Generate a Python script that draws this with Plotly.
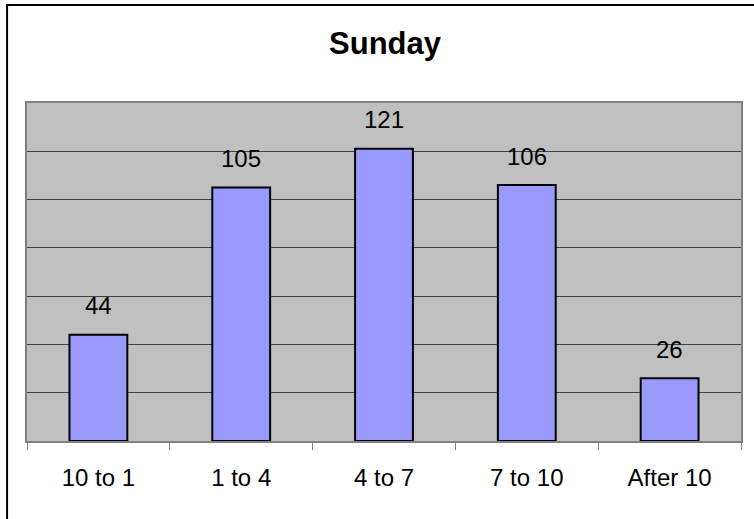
import plotly.graph_objects as go

categories = ["10 to 1", "1 to 4", "4 to 7", "7 to 10", "After 10"]
values = [44, 105, 121, 106, 26]
title_text = "Sunday"

W, H = 754, 519
L, R, T, B = 27, 11, 103, 78
pw, ph = W - L - R, H - T - B

fig = go.Figure()
fig.add_trace(go.Bar(
    x=categories, y=values, width=0.405,
    marker=dict(color="#9999FF", line=dict(color="#000000", width=2)),
    hoverinfo="skip",
))

for c, v in zip(categories, values):
    fig.add_annotation(x=c, y=v, text=str(v), showarrow=False,
                       yanchor="bottom", yshift=13.5,
                       font=dict(family="Liberation Sans, Arial", size=24, color="#000000"))

# outer chart border
fig.add_shape(type="rect", xref="paper", yref="paper",
              x0=(7 - L) / pw, x1=1.1, y0=-0.4, y1=(H - B - 5) / ph,
              line=dict(color="#000000", width=2), layer="above")

fig.update_layout(
    width=W, height=H,
    margin=dict(l=L, r=R, t=T, b=B, pad=0),
    paper_bgcolor="#FFFFFF", plot_bgcolor="#C0C0C0",
    showlegend=False,
    title=dict(text="<b>" + title_text + "</b>", x=385 / W, xanchor="center",
               y=1 - 43 / H, yanchor="middle",
               font=dict(family="Liberation Sans, Arial", size=31, color="#000000")),
    font=dict(family="Liberation Sans, Arial", size=24, color="#000000"),
    bargap=0.6,
)
fig.update_xaxes(showline=True, linecolor="#808080", linewidth=2, mirror=True,
                 ticks="outside", tickson="boundaries", ticklen=7, tickcolor="#808080",
                 tickwidth=1, ticklabelstandoff=14, showgrid=False,
                 tickfont=dict(size=24, family="Liberation Sans, Arial"))
fig.update_yaxes(range=[0, 140], dtick=20, showticklabels=False, showgrid=True,
                 gridcolor="#404040", gridwidth=1, zeroline=False,
                 showline=True, linecolor="#808080", linewidth=2, mirror=True, ticks="")

fig.write_html("out.html", config={"displayModeBar": False},
               post_script="document.body.style.margin='0';document.body.style.overflow='hidden';")
